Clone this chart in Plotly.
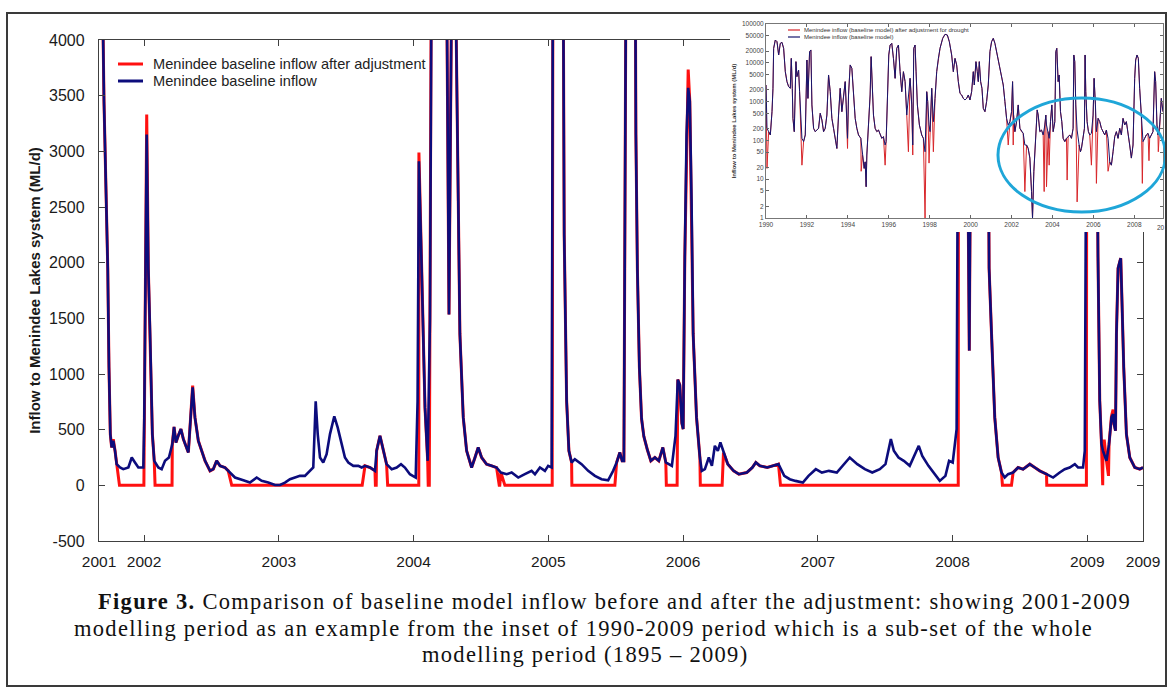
import plotly.graph_objects as go

W, H = 1168, 693


def fx(p):
    return p / W


def fy(p):
    return 1 - p / H


# ---------------- main chart data (decimal year, ML/d) ----------------
years = [
    2001.666, 2001.688, 2001.703, 2001.711, 2001.731, 2001.740, 2001.750, 2001.760, 2001.772, 2001.785,
    2001.797, 2001.822, 2001.846, 2001.884, 2001.909, 2001.933, 2001.958, 2001.995, 2002.002, 2002.020,
    2002.032, 2002.045, 2002.062, 2002.076, 2002.106, 2002.131, 2002.156, 2002.185, 2002.210, 2002.223,
    2002.237, 2002.254, 2002.274, 2002.292, 2002.329, 2002.346, 2002.361, 2002.378, 2002.403, 2002.428,
    2002.453, 2002.490, 2002.514, 2002.539, 2002.564, 2002.601, 2002.625, 2002.675, 2002.737, 2002.786,
    2002.836, 2002.873, 2002.922, 2002.972, 2003.009, 2003.046, 2003.083, 2003.120, 2003.157, 2003.194,
    2003.231, 2003.256, 2003.274, 2003.289, 2003.306, 2003.330, 2003.355, 2003.380, 2003.412, 2003.437,
    2003.467, 2003.491, 2003.516, 2003.553, 2003.590, 2003.615, 2003.640, 2003.677, 2003.714, 2003.726,
    2003.751, 2003.775, 2003.800, 2003.838, 2003.875, 2003.907, 2003.936, 2003.973, 2004.016, 2004.030,
    2004.040, 2004.055, 2004.070, 2004.085, 2004.105, 2004.122, 2004.133, 2004.181, 2004.246, 2004.263,
    2004.283, 2004.296, 2004.312, 2004.320, 2004.332, 2004.344, 2004.369, 2004.394, 2004.431, 2004.456,
    2004.480, 2004.505, 2004.542, 2004.579, 2004.616, 2004.648, 2004.691, 2004.728, 2004.777, 2004.826,
    2004.876, 2004.901, 2004.938, 2004.975, 2004.999, 2005.025, 2005.034, 2005.064, 2005.111, 2005.118,
    2005.136, 2005.153, 2005.173, 2005.197, 2005.247, 2005.296, 2005.346, 2005.395, 2005.444, 2005.481,
    2005.507, 2005.531, 2005.548, 2005.561, 2005.576, 2005.613, 2005.646, 2005.650, 2005.661, 2005.676,
    2005.692, 2005.709, 2005.735, 2005.761, 2005.791, 2005.820, 2005.850, 2005.872, 2005.917, 2005.944,
    2005.961, 2005.976, 2005.991, 2006.001, 2006.013, 2006.026, 2006.038, 2006.050, 2006.063, 2006.075,
    2006.100, 2006.125, 2006.139, 2006.162, 2006.191, 2006.214, 2006.236, 2006.258, 2006.277, 2006.300,
    2006.332, 2006.375, 2006.414, 2006.473, 2006.514, 2006.540, 2006.570, 2006.625, 2006.666, 2006.708,
    2006.751, 2006.792, 2006.834, 2006.889, 2006.931, 2006.985, 2007.030, 2007.082, 2007.141, 2007.182,
    2007.237, 2007.293, 2007.349, 2007.404, 2007.460, 2007.502, 2007.542, 2007.564, 2007.599, 2007.638,
    2007.682, 2007.749, 2007.775, 2007.821, 2007.861, 2007.905, 2007.947, 2007.974, 2008.001, 2008.030,
    2008.044, 2008.076, 2008.105, 2008.124, 2008.139, 2008.187, 2008.261, 2008.271, 2008.289, 2008.313,
    2008.338, 2008.363, 2008.387, 2008.412, 2008.449, 2008.486, 2008.523, 2008.573, 2008.610, 2008.647,
    2008.697, 2008.746, 2008.795, 2008.832, 2008.869, 2008.907, 2008.931, 2008.968, 2008.981, 2008.988,
    2008.996, 2009.025, 2009.066, 2009.079, 2009.092, 2009.105, 2009.116, 2009.142, 2009.161, 2009.179,
    2009.191, 2009.198, 2009.209, 2009.216, 2009.228, 2009.240, 2009.248, 2009.257, 2009.270, 2009.290,
    2009.315, 2009.352, 2009.389, 2009.413,
]

baseline = [
    5000, 4800, 3450, 3000, 1950, 1060, 460, 340, 400, 310,
    190, 160, 145, 160, 250, 205, 160, 160, 600, 3150,
    1950, 1360, 460, 220, 160, 145, 220, 250, 370, 525,
    385, 445, 505, 415, 295, 610, 880, 610, 400, 310,
    220, 130, 145, 220, 175, 160, 130, 70, 45, 25,
    70, 40, 25, 3, 3, 25, 55, 70, 85, 85,
    130, 160, 755, 460, 250, 205, 280, 460, 620, 520,
    370, 250, 205, 175, 175, 160, 175, 160, 130, 310,
    445, 310, 190, 145, 160, 190, 160, 100, 70, 755,
    2910, 2200, 1300, 700, 220, 1500, 4500, 20000, 4500, 1535,
    4500, 6000, 4500, 3450, 2550, 1360, 610, 310, 160, 250,
    340, 250, 190, 175, 160, 115, 100, 115, 70, 100,
    130, 100, 160, 130, 175, 160, 4500, 12000, 4500, 2250,
    760, 310, 205, 235, 190, 130, 85, 55, 45, 130,
    205, 295, 220, 220, 4500, 15000, 4500, 3150, 1950, 1060,
    600, 440, 320, 220, 250, 220, 340, 205, 175, 445,
    950, 900, 560, 505, 2050, 3150, 3570, 3450, 2550, 1360,
    610, 250, 130, 145, 250, 175, 355, 310, 385, 295,
    190, 130, 100, 115, 160, 205, 175, 160, 175, 190,
    85, 55, 40, 25, 85, 145, 115, 130, 115, 175,
    250, 190, 145, 115, 145, 190, 415, 310, 250, 220,
    175, 355, 265, 175, 115, 40, 85, 220, 205, 505,
    4500, 8000, 4200, 1210, 4200, 16000, 4300, 1950, 1360, 610,
    250, 115, 70, 100, 115, 160, 145, 190, 160, 130,
    100, 70, 115, 145, 160, 190, 160, 160, 310, 2000,
    4500, 6000, 4300, 2050, 760, 370, 310, 220, 370, 610,
    640, 550, 490, 1360, 1950, 2010, 2040, 1650, 1060, 460,
    250, 160, 145, 160,
]

# periods where the adjusted inflow is set to zero
zero_start = [2001.818, 2002.082, 2002.651, 2003.717, 2003.808, 2004.109, 2004.636, 2004.678,
              2005.175, 2005.876, 2006.128, 2006.723, 2008.370, 2008.699, 2009.109]
zero_end = [2001.999, 2002.208, 2003.619, 2003.723, 2004.039, 2004.117, 2004.640, 2005.029,
            2005.494, 2005.956, 2006.290, 2008.042, 2008.437, 2008.993, 2009.114]
# adjusted values that differ from the baseline outside the zero periods
adj_t = [2001.772, 2002.020, 2002.361, 2004.040, 2006.038, 2009.179, 2009.191, 2009.125, 2009.157]
adj_v = [415, 3330, 895, 2990, 3734, 620, 680, 410, 85]

main_tick_vals = [2001.666, 2002, 2003, 2004, 2005, 2006, 2007, 2008, 2009, 2009.413]
main_tick_text = ["2001", "2002", "2003", "2004", "2005", "2006", "2007", "2008", "2009", "2009"]
y_tick_vals = [-500, 0, 500, 1000, 1500, 2000, 2500, 3000, 3500, 4000]
y_tick_text = ["-500", "0", "500", "1000", "1500", "2000", "2500", "3000", "3500", "4000"]

main_series_names = ["Menindee baseline inflow after adjustment", "Menindee baseline inflow"]
inset_series_names = ["Menindee inflow (baseline model) after adjustment for drought",
                      "Menindee inflow (baseline model)"]

# ---------------- inset data (1990-2009, log scale) ----------------
inset_t = [
    1990.000, 1990.049, 1990.130, 1990.211, 1990.293, 1990.341, 1990.374, 1990.455, 1990.537, 1990.618,
    1990.699, 1990.780, 1990.862, 1990.943, 1991.024, 1991.106, 1991.187, 1991.236, 1991.285, 1991.317,
    1991.382, 1991.463, 1991.512, 1991.593, 1991.642, 1991.707, 1991.756, 1991.837, 1991.919, 1992.000,
    1992.049, 1992.130, 1992.195, 1992.244, 1992.325, 1992.407, 1992.488, 1992.569, 1992.650, 1992.732,
    1992.813, 1992.894, 1992.976, 1993.057, 1993.138, 1993.220, 1993.301, 1993.382, 1993.463, 1993.545,
    1993.626, 1993.707, 1993.789, 1993.870, 1993.919, 1993.984, 1994.033, 1994.114, 1994.195, 1994.276,
    1994.358, 1994.439, 1994.520, 1994.634, 1994.715, 1994.797, 1994.846, 1994.894, 1994.927, 1995.008,
    1995.089, 1995.138, 1995.187, 1995.252, 1995.333, 1995.415, 1995.496, 1995.577, 1995.659, 1995.740,
    1995.821, 1995.870, 1995.935, 1996.000, 1996.065, 1996.146, 1996.228, 1996.309, 1996.390, 1996.472,
    1996.553, 1996.634, 1996.715, 1996.797, 1996.878, 1996.959, 1997.041, 1997.122, 1997.171, 1997.220,
    1997.285, 1997.333, 1997.398, 1997.496, 1997.610, 1997.691, 1997.772, 1997.854, 1997.902, 1997.967,
    1998.016, 1998.098, 1998.179, 1998.260, 1998.341, 1998.423, 1998.504, 1998.634, 1998.748, 1998.862,
    1998.959, 1999.073, 1999.154, 1999.236, 1999.317, 1999.398, 1999.480, 1999.561, 1999.642, 1999.724,
    1999.805, 1999.886, 1999.967, 2000.049, 2000.130, 2000.179, 2000.260, 2000.325, 2000.374, 2000.423,
    2000.488, 2000.553, 2000.618, 2000.699, 2000.780, 2000.862, 2000.943, 2001.024, 2001.106, 2001.187,
    2001.268, 2001.350, 2001.431, 2001.512, 2001.593, 2001.675, 2001.756, 2001.837, 2001.919, 2002.000,
    2002.049, 2002.098, 2002.163, 2002.244, 2002.325, 2002.407, 2002.488, 2002.569, 2002.650, 2002.732,
    2002.813, 2002.894, 2002.976, 2003.024, 2003.089, 2003.187, 2003.252, 2003.301, 2003.382, 2003.463,
    2003.545, 2003.626, 2003.675, 2003.707, 2003.789, 2003.837, 2003.902, 2003.967, 2004.033, 2004.114,
    2004.163, 2004.211, 2004.276, 2004.325, 2004.390, 2004.455, 2004.520, 2004.602, 2004.683, 2004.764,
    2004.846, 2004.927, 2005.008, 2005.041, 2005.089, 2005.138, 2005.203, 2005.301, 2005.366, 2005.415,
    2005.496, 2005.561, 2005.593, 2005.626, 2005.691, 2005.756, 2005.821, 2005.902, 2005.984, 2006.033,
    2006.098, 2006.146, 2006.228, 2006.309, 2006.390, 2006.472, 2006.553, 2006.634, 2006.715, 2006.797,
    2006.878, 2006.959, 2007.041, 2007.122, 2007.203, 2007.285, 2007.366, 2007.447, 2007.528, 2007.610,
    2007.691, 2007.772, 2007.854, 2007.935, 2008.016, 2008.065, 2008.130, 2008.195, 2008.260, 2008.341,
    2008.423, 2008.504, 2008.585, 2008.667, 2008.748, 2008.829, 2008.911, 2008.992, 2009.041, 2009.106,
    2009.154, 2009.236, 2009.317, 2009.398,
]

inset_flow = [
    2680, 205, 168, 138, 550, 2200, 23600, 38700, 35000, 15900,
    31700, 33700, 23600, 5900, 3270, 2430, 2200, 13000, 2200, 370,
    168, 10700, 4400, 6500, 1800, 205, 113, 93, 138, 11800,
    1210, 19400, 21400, 820, 205, 168, 185, 205, 500, 335,
    168, 205, 450, 4850, 1800, 370, 205, 113, 62, 450,
    2200, 550, 1480, 3270, 820, 113, 1480, 8800, 7200, 1800,
    370, 205, 138, 113, 42, 19, 28, 6.4, 42, 205,
    1480, 14400, 3980, 450, 205, 168, 185, 138, 113, 125,
    76, 93, 2200, 15900, 28700, 31700, 13000, 3980, 23600, 28700,
    5900, 1800, 5900, 3270, 450, 1480, 3980, 820, 76, 23600,
    28700, 5900, 820, 250, 138, 113, 51, 1800, 1000, 250,
    168, 2200, 304, 1210, 5900, 13000, 23600, 42700, 54200, 52000,
    35000, 15900, 5900, 13000, 8800, 3270, 1630, 1480, 1210, 1100,
    1210, 1480, 1100, 1800, 5900, 2680, 10700, 5900, 3270, 10700,
    3270, 2200, 670, 550, 1000, 2680, 19400, 35000, 42700, 31700,
    19400, 9700, 6500, 3980, 2680, 1000, 370, 250, 304, 550,
    3270, 450, 168, 304, 820, 205, 168, 152, 76, 76,
    62, 35, 4.8, 1, 16, 168, 610, 450, 168, 185,
    138, 250, 450, 250, 168, 113, 304, 820, 168, 304,
    19400, 23600, 3270, 4850, 550, 304, 113, 93, 113, 125,
    138, 113, 205, 15900, 10700, 820, 185, 76, 51, 62,
    113, 205, 15900, 1800, 304, 168, 138, 152, 450, 3980,
    820, 168, 370, 304, 205, 168, 138, 185, 113, 28,
    23, 51, 125, 168, 113, 205, 138, 370, 250, 304,
    168, 76, 35, 76, 3980, 11800, 15900, 13000, 2200, 450,
    93, 113, 138, 152, 113, 138, 168, 5900, 3270, 250,
    138, 250, 1210, 550,
]

# drought-adjusted dips in the inset series
inset_dip_t = [1990.049, 1991.756, 1993.984, 1994.650, 1995.821, 1996.959, 1997.171, 1997.772,
               1997.967, 1998.179, 2001.837, 2002.081, 2002.650, 2003.593, 2003.707, 2003.837,
               2004.715, 2005.203, 2005.902, 2006.146, 2006.715, 2008.390, 2008.715, 2009.171]
inset_dip_v = [19, 23, 62, 16, 23, 51, 42, 1,
               26, 51, 76, 76, 4.8, 4.8, 6.4, 23,
               9.5, 2.6, 23, 7.8, 16, 7.8, 30, 51]

inset_x_ticks = [1990, 1992, 1994, 1996, 1998, 2000, 2002, 2004, 2006, 2008]
inset_y_ticks = [1, 2, 5, 10, 20, 50, 100, 200, 500, 1000, 2000, 5000, 10000, 20000, 50000, 100000]

# ---------------- build adjusted series ----------------
def in_zero(t):
    return any(s <= t <= e for s, e in zip(zero_start, zero_end))


adj = {t: v for t, v in zip(years, baseline) if not in_zero(t)}
adj.update(dict(zip(adj_t, adj_v)))
for s, e in zip(zero_start, zero_end):
    adj[s] = 0
    adj[e] = 0
adj_sorted = sorted(adj.items())
adjusted_t = [p[0] for p in adj_sorted]
adjusted_v = [p[1] for p in adj_sorted]

inset_adj = dict(zip(inset_t, inset_flow))
inset_adj.update(dict(zip(inset_dip_t, inset_dip_v)))
ia_sorted = sorted(inset_adj.items())
inset_adj_t = [p[0] for p in ia_sorted]
inset_adj_v = [p[1] for p in ia_sorted]

RED = "#ff1010"
NAVY = "#0c0c7c"
IN_RED = "#d8262a"
IN_BLUE = "#16166e"
SANS = "Arial, Liberation Sans, sans-serif"
SERIF = "Times New Roman, Liberation Serif, serif"

fig = go.Figure()
fig.add_trace(go.Scatter(x=adjusted_t, y=adjusted_v, mode="lines",
                         line=dict(color=RED, width=3),
                         name=main_series_names[0], showlegend=False))
fig.add_trace(go.Scatter(x=years, y=baseline, mode="lines",
                         line=dict(color=NAVY, width=2.6),
                         name=main_series_names[1], showlegend=False))
# blank panel under the inset (covers the main chart there)
fig.add_trace(go.Scatter(x=[None], y=[None], xaxis="x2", yaxis="y2",
                         showlegend=False, hoverinfo="skip"))
fig.add_trace(go.Scatter(x=inset_adj_t, y=inset_adj_v, xaxis="x3", yaxis="y3", mode="lines",
                         line=dict(color=IN_RED, width=1),
                         name=inset_series_names[0], showlegend=False))
fig.add_trace(go.Scatter(x=inset_t, y=inset_flow, xaxis="x3", yaxis="y3", mode="lines",
                         line=dict(color=IN_BLUE, width=1),
                         name=inset_series_names[1], showlegend=False))

axis_line = "#404040"

fig.update_layout(
    width=W, height=H, template="none",
    margin=dict(l=0, r=0, t=0, b=0),
    paper_bgcolor="white", plot_bgcolor="white",
    font=dict(family=SANS, color="#1a1a1a"),
    xaxis=dict(domain=[fx(99), fx(1143)], range=[2001.666, 2009.413],
               tickmode="array", tickvals=main_tick_vals, ticktext=main_tick_text,
               ticks="inside", ticklen=6, tickcolor=axis_line, showline=True, linecolor=axis_line,
               linewidth=1.3, mirror="ticks", showgrid=False, zeroline=False,
               tickfont=dict(size=15.5, family=SANS), ticklabelstandoff=6, anchor="y"),
    yaxis=dict(domain=[fy(541), fy(40)], range=[-500, 4000],
               tickmode="array", tickvals=y_tick_vals, ticktext=y_tick_text,
               ticks="inside", ticklen=6, tickcolor=axis_line, showline=True, linecolor=axis_line,
               linewidth=1.3, mirror="ticks", showgrid=False, zeroline=False,
               tickfont=dict(size=16, family=SANS), ticklabelstandoff=10, anchor="x",
               title=dict(text="<b>Inflow to Menindee Lakes system (ML/d)</b>",
                          font=dict(size=15, family=SANS), standoff=4)),
    xaxis2=dict(domain=[fx(730), fx(1166)], range=[0, 1], visible=False, anchor="y2"),
    yaxis2=dict(domain=[fy(232), fy(15)], range=[0, 1], visible=False, anchor="x2"),
    xaxis3=dict(domain=[fx(766), fx(1163)], range=[1990, 2009.4],
                tickmode="array", tickvals=inset_x_ticks,
                ticks="inside", ticklen=3, tickcolor="#666", showline=True, linecolor="#777",
                linewidth=1, mirror="ticks", showgrid=False, zeroline=False,
                tickfont=dict(size=6.5, family=SANS, color="#444"), anchor="y3"),
    yaxis3=dict(domain=[fy(218), fy(24)], type="log", range=[0, 5],
                tickmode="array", tickvals=inset_y_ticks, ticktext=[str(v) for v in inset_y_ticks],
                ticks="inside", ticklen=3, tickcolor="#666", showline=True, linecolor="#777",
                linewidth=1, mirror="ticks", showgrid=False, zeroline=False,
                tickfont=dict(size=6.5, family=SANS, color="#444"), anchor="x3",
                title=dict(text="<b>Inflow to Menindee Lakes system (ML/d)</b>",
                           font=dict(size=6, family=SANS, color="#333"), standoff=4)),
    showlegend=False,
)

shapes = [
    # main legend keys
    dict(type="line", xref="paper", yref="paper", x0=fx(118), x1=fx(143), y0=fy(64), y1=fy(64),
         line=dict(color=RED, width=3)),
    dict(type="line", xref="paper", yref="paper", x0=fx(118), x1=fx(143), y0=fy(81), y1=fy(81),
         line=dict(color=NAVY, width=3)),
    # inset legend keys
    dict(type="line", xref="paper", yref="paper", x0=fx(788), x1=fx(800), y0=fy(30), y1=fy(30),
         line=dict(color=IN_RED, width=1.2)),
    dict(type="line", xref="paper", yref="paper", x0=fx(788), x1=fx(800), y0=fy(37), y1=fy(37),
         line=dict(color=IN_BLUE, width=1.2)),
    # highlight ellipse
    dict(type="circle", xref="paper", yref="paper", x0=fx(998), x1=fx(1165.5), y0=fy(212), y1=fy(98),
         line=dict(color="#1fa6d8", width=3), layer="above"),
    # outer frame
    dict(type="rect", xref="paper", yref="paper", x0=fx(7), x1=fx(1166), y0=fy(686), y1=fy(13),
         line=dict(color="#3a3a3a", width=2), fillcolor="rgba(0,0,0,0)", layer="above"),
]
fig.update_layout(shapes=shapes)

ann = []
for name, cy in zip(main_series_names, [64, 81]):
    ann.append(dict(text=name, x=fx(151), y=fy(cy), xref="paper", yref="paper", showarrow=False,
                    xanchor="left", yanchor="middle", font=dict(family=SANS, size=14.6, color="#222")))
for name, cy in zip(inset_series_names, [30, 37]):
    ann.append(dict(text=name, x=fx(802), y=fy(cy), xref="paper", yref="paper", showarrow=False,
                    xanchor="left", yanchor="middle", font=dict(family=SANS, size=6, color="#333")))

caption = [
    ("<b>Figure 3.</b> Comparison of baseline model inflow before and after the adjustment: showing 2001-2009", 614, 601.5),
    ("modelling period as an example from the inset of 1990-2009 period which is a sub-set of the whole", 583, 628),
    ("modelling period (1895 \u2013 2009)", 585, 654.5),
]
for text, cx, cy in caption:
    ann.append(dict(text='<span style="letter-spacing:1.3px">' + text + '</span>',
                    x=fx(cx), y=fy(cy), xref="paper", yref="paper", showarrow=False,
                    xanchor="center", yanchor="middle", font=dict(family=SERIF, size=22.5, color="#111")))
ann.append(dict(text="20", x=fx(1167), y=fy(227), xref="paper", yref="paper", showarrow=False,
                xanchor="right", yanchor="middle", font=dict(family=SANS, size=6.5, color="#444")))
fig.update_layout(annotations=ann)

fig.write_html("out.html", config={"displayModeBar": False},
               post_script="document.body.style.margin='0px';document.body.style.overflow='hidden';")
